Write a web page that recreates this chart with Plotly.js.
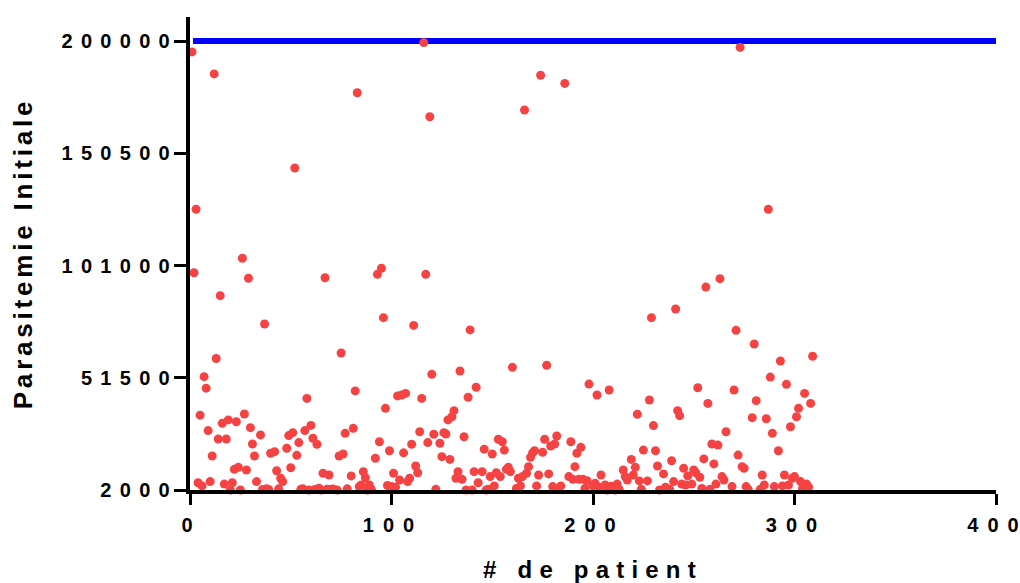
<!DOCTYPE html>
<html>
<head>
<meta charset="utf-8">
<script src="https://cdn.plot.ly/plotly-3.0.1.min.js"></script>
<style>
  html, body { margin: 0; padding: 0; background: #fff; }
  #chart { width: 1020px; height: 583px; }
  .ytick text { letter-spacing: 8.3px !important; }
  .g-xtitle text { letter-spacing: 7.2px !important; }
  .g-ytitle text { letter-spacing: 3.8px !important; }
</style>
</head>
<body>
<div id="chart"></div>
<script>
// Patient number (x) and initial parasitemia (y)
const patient = [
  1,2,3,4,5,6,7,8,9,10,11,12,13,14,15,16,17,18,19,20,
  21,22,23,24,25,26,27,28,29,30,31,32,33,35,36,37,38,39,40,42,
  43,44,45,46,48,49,50,51,52,53,54,55,56,57,58,59,60,61,62,63,
  64,65,66,67,68,69,70,71,73,74,75,76,77,78,80,81,82,83,84,85,
  86,87,88,89,90,92,93,94,95,96,97,98,99,100,101,102,103,104,105,106,
  107,108,109,110,111,112,113,114,115,116,117,118,119,120,121,122,124,125,126,127,
  128,129,130,131,132,133,134,135,136,137,138,139,140,141,142,143,145,146,147,148,
  149,150,151,152,153,154,155,156,157,158,159,160,162,163,164,165,166,167,168,169,
  170,171,172,173,174,175,176,177,178,179,180,181,182,183,184,186,188,189,190,191,
  192,193,194,195,196,197,198,200,201,202,203,204,206,207,208,209,211,212,213,215,
  216,217,219,220,221,222,223,224,225,227,228,229,230,231,232,233,235,236,238,239,
  240,241,242,243,244,245,246,247,249,250,251,252,253,254,255,256,257,258,259,260,
  261,262,263,264,265,266,269,270,271,272,273,274,275,276,277,279,280,281,283,284,
  285,286,287,288,289,290,292,293,294,295,296,297,298,299,300,301,302,303,304,305,
  306,307,308,309
];
const parasitemie = [
  195200,97800,125800,5200,35000,3800,52000,46900,28200,5700,17000,185500,60000,24500,87700,31400,4600,24500,32900,2000,
  5200,11100,32100,12000,2000,104200,35500,10800,95400,29500,22300,17000,5700,26300,2200,75200,2500,2200,18200,18900,
  10500,2500,7200,5700,20400,26000,11800,27300,144000,17300,22900,2300,2500,28200,42400,2000,30500,24800,2200,22200,
  2800,2000,9400,95600,2300,8600,2300,2400,2000,17000,62400,17900,27000,2500,8200,29200,45700,177200,3500,4200,
  10100,7400,2000,4200,2300,16000,97100,23300,99800,78000,38000,4000,19300,3500,9400,3200,43500,6400,43900,18400,
  44600,5700,7200,22200,74600,12600,9600,27700,42400,199300,97100,22900,166600,53000,26600,2300,22600,16700,27300,26700,
  32900,15500,34300,37000,7200,10100,54500,6700,25500,2000,42900,72600,2000,10100,47300,5200,10100,20000,2000,2300,
  7900,17900,3800,9600,24400,7900,23300,19600,11100,12000,10100,56100,2700,7200,3800,7900,169600,9400,12300,16400,
  18400,19300,3800,8600,184900,18600,24400,57000,9100,21400,3500,22300,25800,2700,3800,181300,7900,23300,6700,12300,
  18200,6700,20800,6700,2700,6100,48700,3800,5000,43900,3200,8600,4200,2000,46100,3600,2000,4600,2300,10800,
  7900,6400,15500,8600,12000,35400,6000,2300,19600,6000,41700,78000,30400,19300,12600,2000,9100,3200,2300,14900,
  5700,81800,37000,34800,4600,11600,4200,8200,4600,10800,9600,47100,7600,2700,15700,91500,40200,2300,22300,13500,
  4600,21800,95200,7900,6400,27700,3500,46100,72400,17400,197200,12300,11600,3500,2300,33900,66400,41400,2300,8600,
  4200,33400,125800,51800,27000,3500,19300,58900,3800,8600,48600,4200,29900,7200,7900,34300,38000,5700,2700,44600,
  4600,3200,40200,61000
];
// Reference threshold line
const seuilX = [1.5, 400];
const seuilY = [200000, 200000];

const xTicks = [0, 100, 200, 300, 400];
const yTicks = [2000, 51500, 101000, 150500, 200000];
const yTickText = ['2000', '51500', '101000', '150500', '200000'];

// spaced-out x tick labels (spacing between characters only, no trailing space)
const xTickText = xTicks.map(v => {
  const s = String(v);
  return s.length > 1 ? '<span style="letter-spacing:9px">' + s.slice(0, -1) + '</span>' + s.slice(-1) : s;
});

const tickFont = { family: 'Liberation Sans, Arial, sans-serif', size: 20, color: '#000', weight: 700 };
const xTitleFont = { family: 'Liberation Sans, Arial, sans-serif', size: 24, color: '#000', weight: 700 };
const yTitleFont = { family: 'Liberation Sans, Arial, sans-serif', size: 26, color: '#000', weight: 700 };

const traces = [
  {
    x: seuilX, y: seuilY, type: 'scatter', mode: 'lines',
    line: { color: '#0000ff', width: 6 }, hoverinfo: 'skip', showlegend: false
  },
  {
    x: patient, y: parasitemie, type: 'scatter', mode: 'markers',
    marker: { color: '#f54343', size: 9, line: { width: 0 } },
    cliponaxis: false, showlegend: false
  }
];

const layout = {
  width: 1020, height: 583,
  margin: { l: 190, r: 24, t: 17, b: 93 },
  paper_bgcolor: '#fff', plot_bgcolor: '#fff',
  showlegend: false,
  xaxis: {
    range: [0, 400], tickvals: xTicks, ticktext: xTickText,
    showgrid: false, zeroline: false,
    showline: true, linecolor: '#000', linewidth: 4,
    ticks: 'outside', ticklen: 11, tickwidth: 3, tickcolor: '#000',
    tickfont: tickFont, ticklabeloverflow: 'allow', ticklabelstandoff: 3, ticklabelshift: -3,
    title: { text: '# de patient', font: xTitleFont, standoff: 27 }
  },
  yaxis: {
    range: [2000, 210600], tickvals: yTicks, ticktext: yTickText,
    showgrid: false, zeroline: false,
    showline: true, linecolor: '#000', linewidth: 4,
    ticks: 'outside', ticklen: 12, tickwidth: 3, tickcolor: '#000',
    tickfont: tickFont, ticklabeloverflow: 'allow', ticklabelstandoff: -8,
    title: { text: 'Parasitemie Initiale', font: yTitleFont, standoff: 22 }
  }
};

Plotly.newPlot('chart', traces, layout, { displayModeBar: false, staticPlot: true });
</script>
</body>
</html>
